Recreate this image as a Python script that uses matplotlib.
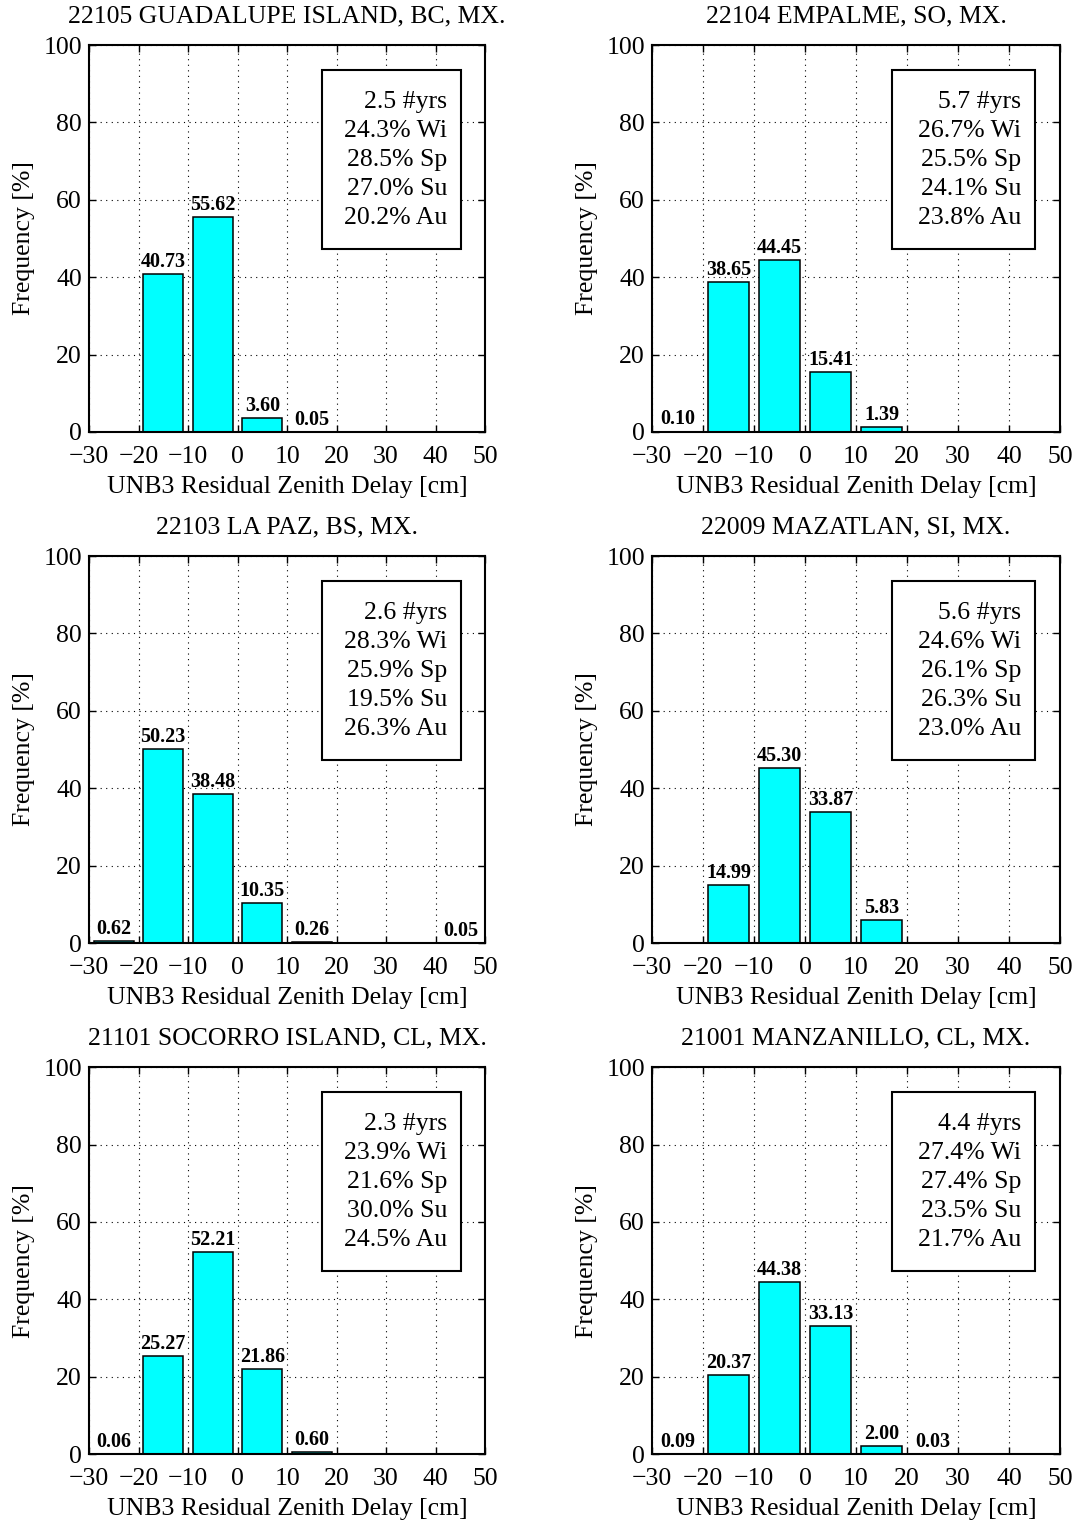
import matplotlib
matplotlib.use('Agg')
import matplotlib.pyplot as plt
from matplotlib.patches import Rectangle
import numpy as np

plt.rcParams['font.family'] = ['Liberation Serif', 'DejaVu Serif']

# bin centres of the residual zenith delay histogram [cm]
bins = [-25, -15, -5, 5, 15, 25, 35, 45]

titles = ['22105 GUADALUPE ISLAND, BC, MX.', '22104 EMPALME, SO, MX.',
          '22103 LA PAZ, BS, MX.', '22009 MAZATLAN, SI, MX.',
          '21101 SOCORRO ISLAND, CL, MX.', '21001 MANZANILLO, CL, MX.']

# frequency [%] per bin, None = empty bin (no label)
freq_guadalupe = [None, 40.73, 55.62, 3.60, 0.05, None, None, None]
freq_empalme = [0.10, 38.65, 44.45, 15.41, 1.39, None, None, None]
freq_lapaz = [0.62, 50.23, 38.48, 10.35, 0.26, None, None, 0.05]
freq_mazatlan = [None, 14.99, 45.30, 33.87, 5.83, None, None, None]
freq_socorro = [0.06, 25.27, 52.21, 21.86, 0.60, None, None, None]
freq_manzanillo = [0.09, 20.37, 44.38, 33.13, 2.00, 0.03, None, None]
freqs = [freq_guadalupe, freq_empalme, freq_lapaz, freq_mazatlan,
         freq_socorro, freq_manzanillo]

years = [2.5, 5.7, 2.6, 5.6, 2.3, 4.4]
winter = [24.3, 26.7, 28.3, 24.6, 23.9, 27.4]
spring = [28.5, 25.5, 25.9, 26.1, 21.6, 27.4]
summer = [27.0, 24.1, 19.5, 26.3, 30.0, 23.5]
autumn = [20.2, 23.8, 26.3, 23.0, 24.5, 21.7]

fig = plt.figure(figsize=(10.83, 15.21), dpi=100)

lefts = [0.0822, 0.602]
widths = [0.3657, 0.3767]
bottoms = [0.716, 0.380, 0.044]
h = 0.2544

for i in range(6):
    r, c = divmod(i, 2)
    ax = fig.add_axes([lefts[c], bottoms[r], widths[c], h])
    vals = [0 if v is None else v for v in freqs[i]]
    ax.bar(bins, vals, width=8, color='#00ffff', edgecolor='black',
           linewidth=1.1, zorder=2)
    for x, v in zip(bins, freqs[i]):
        if v is None:
            continue
        ax.annotate('%.2f' % v, (x, v), xytext=(0, 1.5),
                    textcoords='offset points', ha='center', va='bottom',
                    fontsize=14.5, fontweight='bold', zorder=3)

    ax.set_xlim(-30, 50)
    ax.set_ylim(0, 100)
    ax.set_xticks(np.arange(-30, 51, 10))
    ax.set_yticks(np.arange(0, 101, 20))
    ax.grid(True, linestyle=(0, (1, 4)), color='black', linewidth=0.8, zorder=0)
    ax.tick_params(direction='in', top=True, right=True, length=5,
                   width=1, labelsize=18.5)
    ax.tick_params(axis='x', pad=10)
    ax.tick_params(axis='y', pad=5)
    for s in ax.spines.values():
        s.set_linewidth(1.5)
    ax.set_title(titles[i], fontsize=18.5, pad=16)
    ax.set_xlabel('UNB3 Residual Zenith Delay [cm]', fontsize=18.5, labelpad=6)
    ax.set_ylabel('Frequency [%]', fontsize=18.5, labelpad=6)

    # info box
    ax.add_patch(Rectangle((0.5875, 0.473), 0.3525, 0.462,
                           transform=ax.transAxes, facecolor='white',
                           edgecolor='black', linewidth=1.5, zorder=4))
    lines = ['%.1f #yrs' % years[i], '%.1f%% Wi' % winter[i],
             '%.1f%% Sp' % spring[i], '%.1f%% Su' % summer[i],
             '%.1f%% Au' % autumn[i]]
    for k, t in enumerate(lines):
        ax.text(0.905, 0.837 - 0.075 * k, t, transform=ax.transAxes,
                ha='right', va='baseline', fontsize=18.5, zorder=5)

fig.savefig('out.png', dpi=100)
